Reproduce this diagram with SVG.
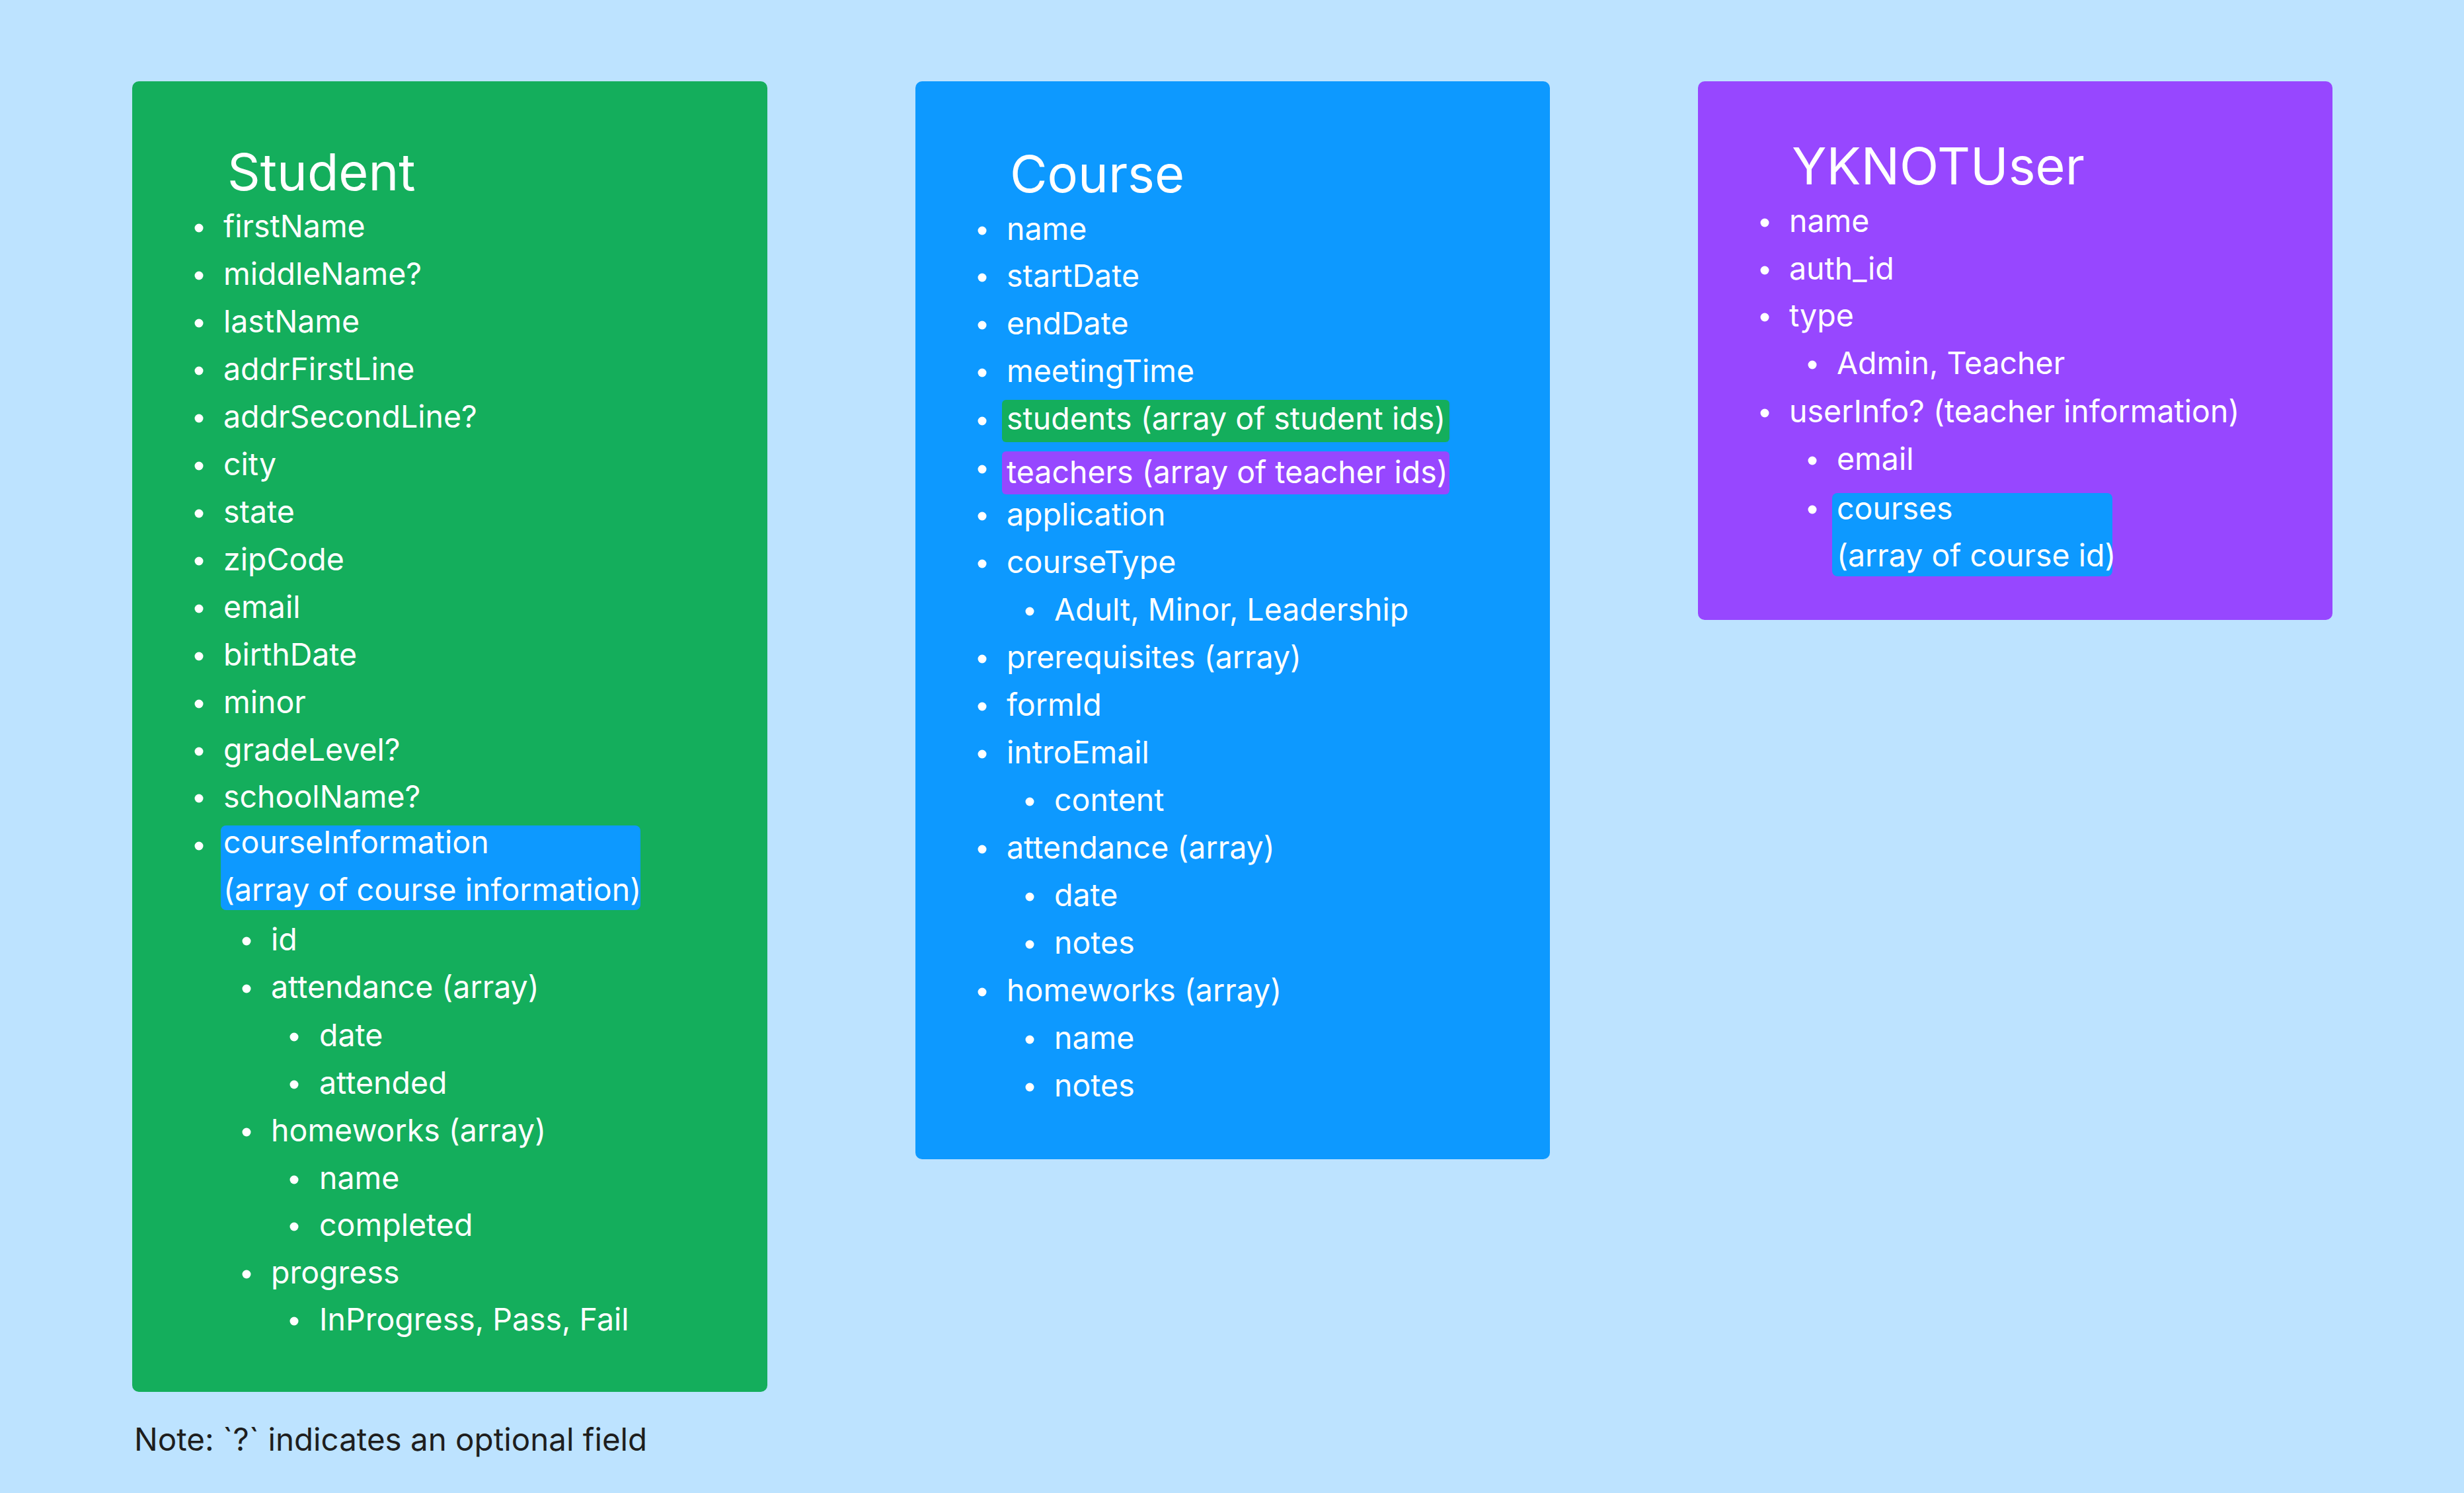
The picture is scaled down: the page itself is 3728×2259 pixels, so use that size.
<svg xmlns="http://www.w3.org/2000/svg" width="3728" height="2259" viewBox="0 0 3728 2259">
<style>
.t{font-family:Inter,"Liberation Sans",sans-serif;font-size:46.5px;fill:#FFFFFF}
.h{font-family:Inter,"Liberation Sans",sans-serif;font-size:77.5px;fill:#FFFFFF}
.note{font-family:Inter,"Liberation Sans",sans-serif;font-size:47.5px;fill:#1E1E1E}
.b{fill:#FFFFFF}
</style>
<rect x="0" y="0" width="3728" height="2259" fill="#BDE3FF"/>
<g id="connectors"/>
<g id="student">
<rect x="200" y="123" width="961" height="1983" rx="10" fill="#14AE5C"/>
<text class="h" x="344" y="288">Student</text>
<circle class="b" cx="301" cy="345" r="6.5"/><text class="t" x="338" y="359">firstName</text>
<circle class="b" cx="301" cy="417" r="6.5"/><text class="t" x="338" y="431">middleName?</text>
<circle class="b" cx="301" cy="489" r="6.5"/><text class="t" x="338" y="503">lastName</text>
<circle class="b" cx="301" cy="561" r="6.5"/><text class="t" x="338" y="575">addrFirstLine</text>
<circle class="b" cx="301" cy="633" r="6.5"/><text class="t" x="338" y="647">addrSecondLine?</text>
<circle class="b" cx="301" cy="705" r="6.5"/><text class="t" x="338" y="719">city</text>
<circle class="b" cx="301" cy="777" r="6.5"/><text class="t" x="338" y="791">state</text>
<circle class="b" cx="301" cy="849" r="6.5"/><text class="t" x="338" y="863">zipCode</text>
<circle class="b" cx="301" cy="921" r="6.5"/><text class="t" x="338" y="935">email</text>
<circle class="b" cx="301" cy="993" r="6.5"/><text class="t" x="338" y="1007">birthDate</text>
<circle class="b" cx="301" cy="1065" r="6.5"/><text class="t" x="338" y="1079">minor</text>
<circle class="b" cx="301" cy="1137" r="6.5"/><text class="t" x="338" y="1151">gradeLevel?</text>
<circle class="b" cx="301" cy="1208" r="6.5"/><text class="t" x="338" y="1222">schoolName?</text>
<rect x="334" y="1249" width="635" height="128" rx="8" fill="#0D99FF"/>
<circle class="b" cx="301" cy="1280" r="6.5"/><text class="t" x="338" y="1291">courseInformation</text>
<text class="t" x="338" y="1363">(array of course information)</text>
<circle class="b" cx="373" cy="1424" r="6.5"/><text class="t" x="410" y="1438">id</text>
<circle class="b" cx="373" cy="1496" r="6.5"/><text class="t" x="410" y="1510">attendance (array)</text>
<circle class="b" cx="445" cy="1569" r="6.5"/><text class="t" x="483" y="1583">date</text>
<circle class="b" cx="445" cy="1641" r="6.5"/><text class="t" x="483" y="1655">attended</text>
<circle class="b" cx="373" cy="1713" r="6.5"/><text class="t" x="410" y="1727">homeworks (array)</text>
<circle class="b" cx="445" cy="1785" r="6.5"/><text class="t" x="483" y="1799">name</text>
<circle class="b" cx="445" cy="1856" r="6.5"/><text class="t" x="483" y="1870">completed</text>
<circle class="b" cx="373" cy="1928" r="6.5"/><text class="t" x="410" y="1942">progress</text>
<circle class="b" cx="445" cy="1999" r="6.5"/><text class="t" x="483" y="2013">InProgress, Pass, Fail</text>
</g>
<g id="course">
<rect x="1385" y="123" width="960" height="1631" rx="10" fill="#0D99FF"/>
<text class="h" x="1528" y="291">Course</text>
<circle class="b" cx="1486" cy="349" r="6.5"/><text class="t" x="1523" y="363">name</text>
<circle class="b" cx="1486" cy="420" r="6.5"/><text class="t" x="1523" y="434">startDate</text>
<circle class="b" cx="1486" cy="492" r="6.5"/><text class="t" x="1523" y="506">endDate</text>
<circle class="b" cx="1486" cy="564" r="6.5"/><text class="t" x="1523" y="578">meetingTime</text>
<rect x="1516" y="605" width="677" height="64" rx="6" fill="#14AE5C"/>
<circle class="b" cx="1486" cy="637" r="6.5"/><text class="t" x="1523" y="650">students (array of student ids)</text>
<rect x="1516" y="683" width="677" height="65" rx="6" fill="#9747FF"/>
<circle class="b" cx="1486" cy="710" r="6.5"/><text class="t" x="1523" y="731">teachers (array of teacher ids)</text>
<circle class="b" cx="1486" cy="781" r="6.5"/><text class="t" x="1523" y="795">application</text>
<circle class="b" cx="1486" cy="853" r="6.5"/><text class="t" x="1523" y="867">courseType</text>
<circle class="b" cx="1558" cy="925" r="6.5"/><text class="t" x="1595" y="939">Adult, Minor, Leadership</text>
<circle class="b" cx="1486" cy="997" r="6.5"/><text class="t" x="1523" y="1011">prerequisites (array)</text>
<circle class="b" cx="1486" cy="1069" r="6.5"/><text class="t" x="1523" y="1083">formId</text>
<circle class="b" cx="1486" cy="1141" r="6.5"/><text class="t" x="1523" y="1155">introEmail</text>
<circle class="b" cx="1558" cy="1213" r="6.5"/><text class="t" x="1595" y="1227">content</text>
<circle class="b" cx="1486" cy="1285" r="6.5"/><text class="t" x="1523" y="1299">attendance (array)</text>
<circle class="b" cx="1558" cy="1357" r="6.5"/><text class="t" x="1595" y="1371">date</text>
<circle class="b" cx="1558" cy="1429" r="6.5"/><text class="t" x="1595" y="1443">notes</text>
<circle class="b" cx="1486" cy="1501" r="6.5"/><text class="t" x="1523" y="1515">homeworks (array)</text>
<circle class="b" cx="1558" cy="1573" r="6.5"/><text class="t" x="1595" y="1587">name</text>
<circle class="b" cx="1558" cy="1645" r="6.5"/><text class="t" x="1595" y="1659">notes</text>
</g>
<g id="yknotuser">
<rect x="2569" y="123" width="960" height="815" rx="10" fill="#9747FF"/>
<text class="h" x="2711" y="279">YKNOTUser</text>
<circle class="b" cx="2670" cy="337" r="6.5"/><text class="t" x="2707" y="351">name</text>
<circle class="b" cx="2670" cy="409" r="6.5"/><text class="t" x="2707" y="423">auth_id</text>
<circle class="b" cx="2670" cy="480" r="6.5"/><text class="t" x="2707" y="494">type</text>
<circle class="b" cx="2742" cy="552" r="6.5"/><text class="t" x="2779" y="566">Admin, Teacher</text>
<circle class="b" cx="2670" cy="625" r="6.5"/><text class="t" x="2707" y="639">userInfo? (teacher information)</text>
<circle class="b" cx="2742" cy="697" r="6.5"/><text class="t" x="2779" y="711">email</text>
<rect x="2772" y="746" width="424" height="126" rx="8" fill="#0D99FF"/>
<circle class="b" cx="2742" cy="771" r="6.5"/><text class="t" x="2779" y="786">courses</text>
<text class="t" x="2779" y="857">(array of course id)</text>
</g>
<g id="note">
<text class="note" x="203" y="2195">Note: `?` indicates an optional field</text>
</g>
</svg>
